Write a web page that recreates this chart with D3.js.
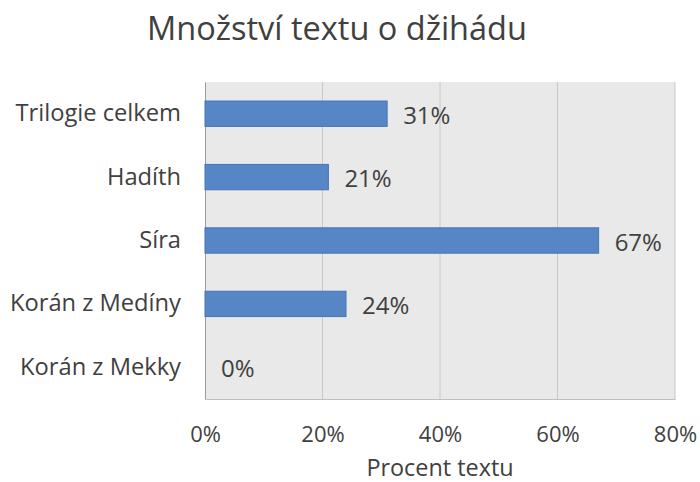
<!DOCTYPE html>
<html>
<head>
<meta charset="utf-8" />
<title>Množství textu o džihádu</title>
<style>
    body { margin: 0; background: #fff; }
    text { font-family: "Open Sans", sans-serif; fill: #404040; }
</style>
</head>
<body>
<svg width="700" height="482"></svg>
<script src="https://cdn.jsdelivr.net/npm/d3@7"></script>
<script>
// data, top to bottom
var categories = ['Trilogie celkem', 'Hadíth', 'Síra', 'Korán z Medíny', 'Korán z Mekky'];
var values = [31, 21, 67, 24, 0];
var ticks = [0, 20, 40, 60, 80];

var svg = d3.select('svg');
var plot = { left: 205, right: 675, top: 82, bottom: 399 };

var x = d3.scaleLinear().domain([0, 80]).range([plot.left, plot.right]);
var y = d3.scaleBand().domain(categories).range([plot.top, plot.bottom]).paddingInner(0.6).paddingOuter(0.3);

var rows = categories.map(function (c, i) {
    return { nom: c, val: values[i] };
});

// plot background
svg.append('rect')
    .attr('x', plot.left).attr('y', plot.top)
    .attr('width', plot.right - plot.left).attr('height', plot.bottom - plot.top)
    .attr('fill', '#e9e9e9');

// gridlines
svg.append('g')
    .selectAll('line')
    .data(ticks.slice(1))
    .enter()
    .append('line')
    .attr('x1', function (d) { return x(d); })
    .attr('x2', function (d) { return x(d); })
    .attr('y1', plot.top).attr('y2', plot.bottom)
    .attr('stroke', '#c8c8c8').attr('stroke-width', 1);

// x axis
var xAxis = svg.append('g')
    .attr('transform', 'translate(0,' + plot.bottom + ')')
    .call(d3.axisBottom(x).tickValues(ticks).tickFormat(function (d) { return d + '%'; }).tickSize(0).tickPadding(27));
xAxis.select('.domain').attr('stroke', '#bfbfbf');
xAxis.selectAll('text').style('font-size', '22px').attr('fill', '#404040');

// y axis
var yAxis = svg.append('g')
    .attr('transform', 'translate(' + plot.left + ',0)')
    .call(d3.axisLeft(y).tickSize(0).tickPadding(24));
yAxis.select('.domain').attr('stroke', '#9a9a9a');
yAxis.selectAll('text').style('font-size', '23.7px').attr('fill', '#404040');

// bars
svg.append('g')
    .selectAll('rect')
    .data(rows)
    .enter()
    .append('rect')
    .attr('x', x(0))
    .attr('y', function (d) { return y(d.nom); })
    .attr('width', function (d) { return x(d.val) - x(0); })
    .attr('height', y.bandwidth())
    .attr('fill', '#5686c6')
    .attr('stroke', function (d) { return d.val > 0 ? '#4575b2' : 'none'; })
    .attr('stroke-width', 1);

// value labels
svg.append('g')
    .selectAll('text')
    .data(rows)
    .enter()
    .append('text')
    .attr('x', function (d) { return x(d.val) + 16; })
    .attr('y', function (d) { return y(d.nom) + y.bandwidth() / 2; })
    .attr('dy', '0.42em')
    .style('font-size', '24px')
    .text(function (d) { return d.val + '%'; });

// title
svg.append('text')
    .attr('x', 337).attr('y', 40)
    .attr('text-anchor', 'middle')
    .style('font-size', '32.5px')
    .text('Množství textu o džihádu');

// axis title
svg.append('text')
    .attr('x', (plot.left + plot.right) / 2).attr('y', 476)
    .attr('text-anchor', 'middle')
    .style('font-size', '23.4px')
    .text('Procent textu');
</script>
</body>
</html>
